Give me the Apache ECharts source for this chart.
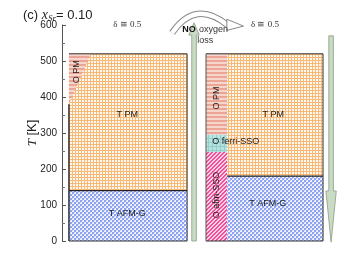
<!DOCTYPE html>
<html><head><meta charset="utf-8">
<script src="https://cdn.jsdelivr.net/npm/echarts@6/dist/echarts.min.js"></script>
<style>html,body{margin:0;padding:0;background:#fff}#c{width:359px;height:253px}</style>
</head><body><div id="c"></div>
<script>
// ---- data (x: composition-panel position units 0..100, T in K) ----
const phaseNames = ['T PM', 'T AFM-G', 'O PM', 'T PM', 'T AFM-G', 'O PM', 'O ferri-SSO', 'O afm-SSO'];
const phaseX0 = [2.5, 2.5, null, 59.4, 59.4, 51.8, 51.8, 51.8];
const phaseX1 = [45, 45, null, 93.9, 93.9, 59.4, 59.4, 59.4];
const phaseT0 = [140, 0, null, 180, 0, 295, 247, 0];
const phaseT1 = [520, 140, null, 520, 180, 520, 295, 247];
const phaseFill = ['grid', 'check', 'stripe', 'grid', 'check', 'stripe', 'teal', 'pink'];
// left-panel O PM wedge (polygon vertices)
const wedgeX = [2.5, 10.4, 2.5];
const wedgeT = [520, 520, 380];
// phase labels
const labelText = ['T PM', 'T AFM-G', 'O PM', 'T PM', 'T AFM-G', 'O PM', 'O ferri-SSO', 'O afm-SSO'];
const labelX = [23.5, 23.5, 5.4, 76, 74, 55.6, 62.5, 55.6];
const labelT = [350, 75, 470, 350, 103, 397, 275, 128];
const labelRot = [0, 0, 90, 0, 0, 90, 0, 90];
// process arrows: x, T start, T end (tip), head length
const arrowX = [47.5, 96.8];
const arrowT0 = [0, 570];
const arrowT1 = [606, -3];
const arrowHead = [34, 142];
const deltaText = ['δ ≅ 0.5', 'δ ≅ 0.5'];
const deltaX = [23.5, 73];
const deltaT = [600, 600];
const yTicks = [0, 100, 200, 300, 400, 500, 600];

function makePattern(w, h, draw) {
  const c = document.createElement('canvas'); c.width = w; c.height = h;
  const g = c.getContext('2d'); draw(g);
  return { type: 'pattern', image: c, repeat: 'repeat' };
}
const patterns = {
  grid: makePattern(3, 3, g => { g.fillStyle = '#fff8ee'; g.fillRect(0,0,3,3); g.fillStyle = '#f8b878'; g.fillRect(0,0,3,1); g.fillRect(0,0,1,3); }),
  check: makePattern(4, 4, g => { g.fillStyle = '#f4f6ff'; g.fillRect(0,0,4,4); g.fillStyle = '#8ea4f2'; g.fillRect(0,0,2,2); g.fillRect(2,2,2,2); g.fillStyle='#c8d3fa'; g.fillRect(2,0,1,1); g.fillRect(0,2,1,1);}),
  stripe: makePattern(4, 4, g => { g.fillStyle = '#f6d5cc'; g.fillRect(0,0,4,4); g.fillStyle = '#eaa595'; g.fillRect(0,0,4,2); }),
  teal: makePattern(4, 4, g => { g.fillStyle = '#b9e2e0'; g.fillRect(0,0,4,4); g.fillStyle = '#8fcfcc'; g.fillRect(0,0,1,4); g.fillRect(0,2,4,1); }),
  pink: makePattern(4, 4, g => { g.fillStyle = '#fbd0e4'; g.fillRect(0,0,4,4); g.fillStyle = '#f0509a'; for (let i=0;i<4;i++){ g.fillRect(i,(3-i)%4,1,1); g.fillRect(i,(4-i)%4,1,1);} })
};

const chart = echarts.init(document.getElementById('c'), null, { renderer: 'canvas' });
const fontF = 'Liberation Sans, Arial, sans-serif';

chart.setOption({
  animation: false,
  grid: { left: 62, right: 19, top: 25, bottom: 12 },
  xAxis: { type: 'value', min: 0, max: 100, show: false },
  yAxis: {
    type: 'value', min: 0, max: 600, interval: 100,
    axisLine: { show: true, lineStyle: { color: '#555', width: 1 } },
    axisTick: { show: true, inside: true, length: 4, lineStyle: { color: '#555' } },
    minorTick: { show: true, splitNumber: 2, length: 3, lineStyle: { color: '#777' } },
    splitLine: { show: false },
    axisLabel: { color: '#222', fontSize: 10, fontFamily: fontF, margin: 5,
      formatter: v => yTicks.includes(v) ? String(v) : '' },
    name: '{i|T} [K]', nameLocation: 'middle', nameGap: 23, nameRotate: 90, nameMoveOverlap: false,
    nameTextStyle: { fontSize: 13, color: '#222', fontFamily: fontF, rich: { i: { fontStyle: 'italic', fontSize: 13, fontFamily: 'Liberation Serif, serif' } } }
  },
  title: {
    text: '(c) {i|x}{s|Sr}= 0.10', left: 18, top: 3,
    textStyle: { fontSize: 13, fontWeight: 'normal', color: '#222', fontFamily: fontF,
      rich: { i: { fontStyle: 'italic', fontFamily: 'Liberation Serif, serif', fontSize: 14 },
              s: { fontStyle: 'italic', fontFamily: 'Liberation Serif, serif', fontSize: 9, padding: [6, 0, 0, 0] } } }
  },
  series: [
    { // phase regions
      type: 'custom', clip: false, z: 2,
      data: phaseNames.map((n, i) => i),
      renderItem: (params, api) => {
        const i = params.dataIndex;
        if (i === 2) {
          const pts = wedgeX.map((x, k) => api.coord([x, wedgeT[k]]));
          return { type: 'polygon', shape: { points: pts }, style: { fill: patterns[phaseFill[i]] } };
        }
        const a = api.coord([phaseX0[i], phaseT1[i]]);
        const b = api.coord([phaseX1[i], phaseT0[i]]);
        return { type: 'rect', shape: { x: a[0], y: a[1], width: b[0] - a[0], height: b[1] - a[1] }, style: { fill: patterns[phaseFill[i]] } };
      }
    },
    { // boundaries
      type: 'custom', clip: false, z: 3,
      data: [0],
      renderItem: (params, api) => {
        const c = (x, t) => api.coord([x, t]);
        const ln = (p, q, w, col) => ({ type: 'line', shape: { x1: p[0], y1: p[1], x2: q[0], y2: q[1] }, style: { stroke: col || '#222', lineWidth: w || 1 } });
        const L0 = phaseX0[0], L1 = phaseX1[0], R0 = phaseX0[5], R1 = phaseX1[3];
        return { type: 'group', children: [
          ln(c(L0, 520), c(L1, 520), 1, '#333'),
          ln(c(L1, 520), c(L1, 0), 1, '#333'),
          ln(c(L0, 0), c(L1, 0), 1, '#333'),
          ln(c(L0, 0), c(L0, wedgeT[2]), 1.4),
          ln(c(R0, 520), c(R1, 520), 1, '#333'),
          ln(c(R1, 520), c(R1, 0), 1, '#333'),
          ln(c(R0, 0), c(R1, 0), 1, '#333'),
          ln(c(R0, 0), c(R0, 520), 1, '#555'),
          ln(c(L0, phaseT0[0]), c(L1, phaseT0[0]), 1.2),
          ln(c(phaseX0[3], phaseT0[3]), c(phaseX1[3], phaseT0[3]), 1.2)
        ] };
      }
    },
    { // arrows
      type: 'custom', clip: false, z: 4,
      data: arrowX.map((x, i) => i),
      renderItem: (params, api) => {
        const i = params.dataIndex;
        const dir = arrowT1[i] > arrowT0[i] ? 1 : -1;
        const base = arrowT1[i] - dir * arrowHead[i];
        const s = api.coord([arrowX[i], arrowT0[i]]);
        const b = api.coord([arrowX[i], base]);
        const t = api.coord([arrowX[i], arrowT1[i]]);
        const sw = 2.3, hw = 5.2;
        const pts = [[s[0]-sw, s[1]], [b[0]-sw, b[1]], [b[0]-hw, b[1]], [t[0], t[1]], [b[0]+hw, b[1]], [b[0]+sw, b[1]], [s[0]+sw, s[1]]];
        return { type: 'polygon', shape: { points: pts }, style: { fill: '#c9dcc3', stroke: '#8a9a88', lineWidth: 0.8 } };
      }
    },
    { // curved "no oxygen loss" arrow
      type: 'custom', clip: false, z: 4,
      data: [0],
      renderItem: (params, api) => {
        const p0 = api.coord([39.6, 578]), cp = api.coord([48, 672]), p1 = api.coord([59.5, 600]);
        const h1 = api.coord([59.3, 616]), h2 = api.coord([65.3, 597]), h3 = api.coord([59.3, 585]);
        const curve = (w, col) => ({ type: 'bezierCurve', shape: { x1: p0[0], y1: p0[1], x2: p1[0], y2: p1[1], cpx1: cp[0], cpy1: cp[1] }, style: { stroke: col, lineWidth: w, fill: null } });
        return { type: 'group', children: [
          curve(6.5, '#888'), curve(4.5, '#fff'),
          { type: 'polygon', shape: { points: [h1, h2, h3] }, style: { fill: '#fff', stroke: '#888', lineWidth: 1 } }
        ] };
      }
    },
    { // phase labels
      type: 'custom', clip: false, z: 5,
      data: labelText.map((t, i) => i),
      renderItem: (params, api) => {
        const i = params.dataIndex;
        const p = api.coord([labelX[i], labelT[i]]);
        return { type: 'text', x: p[0], y: p[1], rotation: labelRot[i] * Math.PI / 180,
          style: { text: labelText[i], fill: '#222', font: '9px ' + fontF, align: 'center', verticalAlign: 'middle' } };
      }
    },
    { // delta labels and note
      type: 'custom', clip: false, z: 6,
      data: [0, 1, 2],
      renderItem: (params, api) => {
        const i = params.dataIndex;
        if (i < 2) {
          const p = api.coord([deltaX[i], deltaT[i]]);
          return { type: 'text', x: p[0], y: p[1], style: { text: deltaText[i], fill: '#333', font: '9px Liberation Serif, serif', align: 'center', verticalAlign: 'middle' } };
        }
        const p = api.coord([51.5, 574]);
        return { type: 'text', x: p[0], y: p[1], z2: 10, style: {
          text: '{b|NO} {n|oxygen}\n{n|loss}', align: 'center', verticalAlign: 'middle',
          rich: { b: { fontWeight: 'bold', fontSize: 9, fontFamily: fontF, fill: '#111', lineHeight: 10 },
                  n: { fontSize: 9, fontFamily: fontF, fill: '#333', lineHeight: 10 } } } };
      }
    }
  ]
});
</script></body></html>
